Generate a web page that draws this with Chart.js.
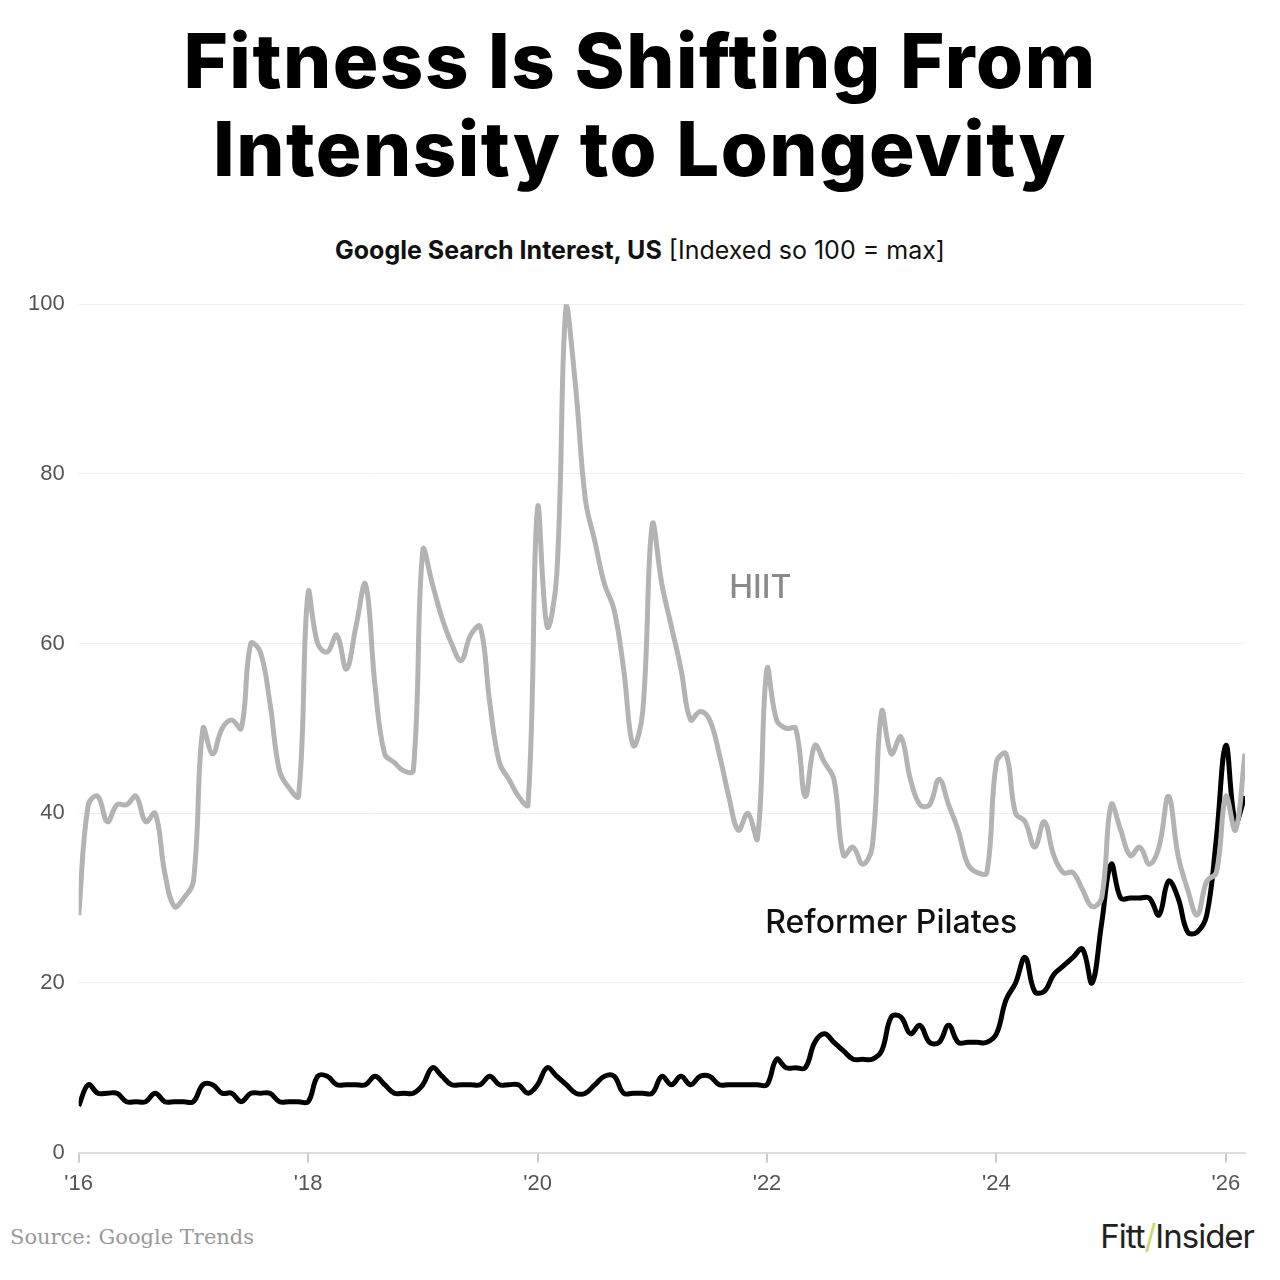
<!DOCTYPE html>
<html><head><meta charset="utf-8">
<script src="https://cdn.jsdelivr.net/npm/chart.js@4"></script>
<style>
body{margin:0;width:1280px;height:1280px;background:#fff;font-family:Inter,"Noto Sans",sans-serif;position:relative;overflow:hidden}
h1{position:absolute;top:16px;left:0;width:1280px;margin:0;text-align:center;font-size:76px;line-height:88px;font-weight:800;color:#000;letter-spacing:1.5px}
.sub{position:absolute;top:235px;left:0;width:1280px;text-align:center;font-size:25px;color:#111}
.sub b{font-weight:700}
#wrap{position:absolute;left:0;top:277px;width:1270px;height:928px}
.src{position:absolute;left:10px;top:1225px;font-family:"DejaVu Serif",serif;font-size:21px;color:#999}
.logo{position:absolute;right:26px;top:1216px;font-size:33px;color:#222;letter-spacing:-1px}
.logo span{color:#c8d86a}
</style></head><body>
<h1>Fitness Is Shifting From<br>Intensity to Longevity</h1>
<div class="sub"><b>Google Search Interest, US</b> [Indexed so 100 = max]</div>
<div id="wrap"><canvas id="c"></canvas></div>
<div class="src">Source: Google Trends</div>
<div class="logo">Fitt<span>/</span>Insider</div>
<script>
// monthly values, Jan 2016 - Mar 2026
const hiit = [
  28,41,42,39,41,41,42,39,40,33,29,30,
  32,50,47,50,51,50,60,59,53,45,43,42,
  66,60,59,61,57,62,67,55,47,46,45,45,
  71,67,63,60,58,61,62,53,46,44,42,41,
  76,62,68,100,90,77,72,67,64,57,48,52,
  74,67,62,57,51,52,51,47,42,38,40,37,
  57,51,50,50,42,48,46,44,35,36,34,36,
  52,47,49,44,41,41,44,41,38,34,33,33,
  46,47,40,39,36,39,35,33,33,31,29,30,
  41,38,35,36,34,36,42,35,31,28,32,33,
  42,38,47
];
const pilates = [
  5.5,8,7,7,7,6,6,6,7,6,6,6,
  6,8,8,7,7,6,7,7,7,6,6,6,
  6,9,9,8,8,8,8,9,8,7,7,7,
  8,10,9,8,8,8,8,9,8,8,8,7,
  8,10,9,8,7,7,8,9,9,7,7,7,
  7,9,8,9,8,9,9,8,8,8,8,8,
  8,11,10,10,10,13,14,13,12,11,11,11,
  12,16,16,14,15,13,13,15,13,13,13,13,
  14,18,20,23,19,19,21,22,23,24,20,27,
  34,30,30,30,30,28,32,30,26,26,28,37,
  48,39,42
];
const pts = arr => arr.map((v, i) => ({x: i, y: v}));

const labelPlugin = {
  id: 'seriesLabels',
  afterDatasetsDraw(chart) {
    const {ctx, scales: {x, y}} = chart;
    ctx.save();
    ctx.font = '500 32px Inter, "Noto Sans", sans-serif';
    ctx.textAlign = 'center';
    ctx.textBaseline = 'middle';
    ctx.fillStyle = '#8a8a8a';
    ctx.fillText('HIIT', x.getPixelForValue(71.3), y.getPixelForValue(66.5));
    ctx.fillStyle = '#111';
    ctx.fillText('Reformer Pilates', x.getPixelForValue(85), y.getPixelForValue(27));
    ctx.restore();
  }
};

new Chart(document.getElementById('c'), {
  type: 'line',
  data: {
    datasets: [
      {label: 'HIIT', data: pts(hiit), borderColor: '#b3b3b3', borderWidth: 5, pointRadius: 0, tension: 0.4, fill: false},
      {label: 'Reformer Pilates', data: pts(pilates), borderColor: '#000', borderWidth: 5, pointRadius: 0, tension: 0.4, fill: false}
    ]
  },
  options: {
    responsive: true,
    maintainAspectRatio: false,
    animation: false,
    layout: {padding: {top: 10, right: 25, left: 14}},
    plugins: {legend: {display: false}, tooltip: {enabled: false}},
    scales: {
      x: {
        type: 'linear', min: 0, max: 122,
        afterBuildTicks: s => { s.ticks = [0,24,48,72,96,120].map(v => ({value: v})); },
        ticks: {
          callback: v => "'" + String(16 + v / 12).padStart(2, '0'),
          color: '#555', font: {size: 22}, padding: 8
        },
        grid: {drawOnChartArea: false, color: '#ccc', tickLength: 10, lineWidth: 2},
        border: {color: '#ddd', width: 2}
      },
      y: {
        min: 0, max: 100,
        ticks: {stepSize: 20, color: '#555', font: {size: 22}, padding: 14},
        grid: {color: '#eeeeee', drawTicks: false},
        border: {display: false}
      }
    }
  },
  plugins: [labelPlugin]
});
</script>
</body></html>
